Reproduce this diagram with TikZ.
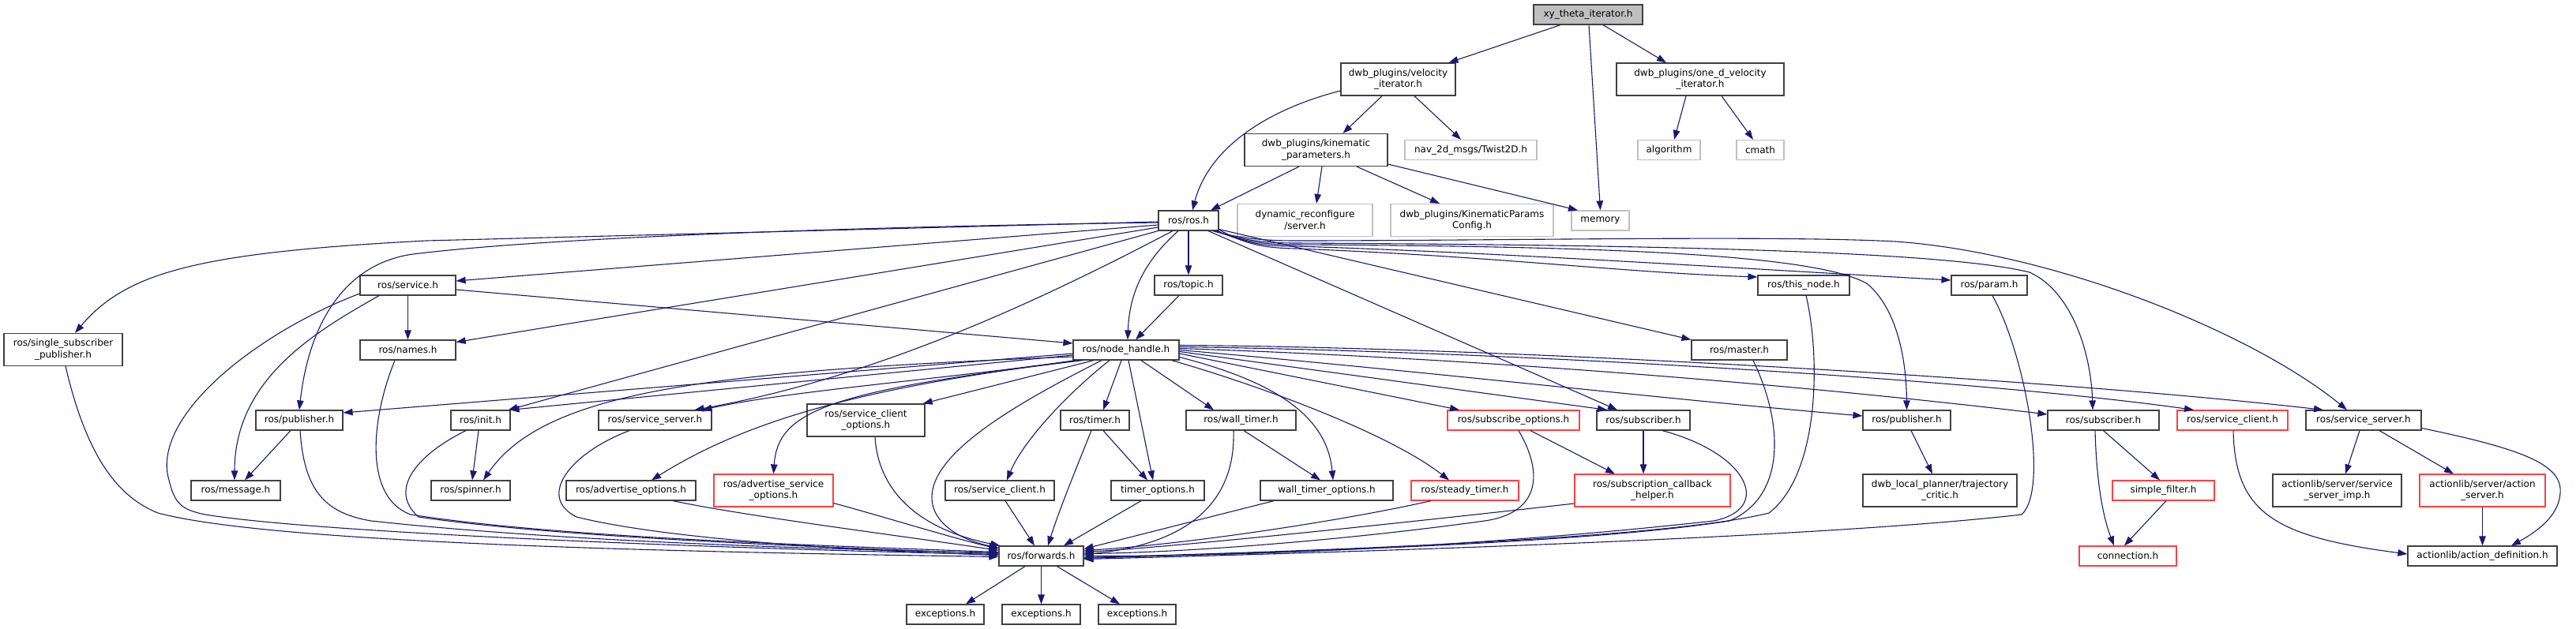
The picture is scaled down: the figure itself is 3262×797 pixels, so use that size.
\documentclass[tikz,border=0pt]{standalone}
\usepackage{fontspec}
\setmainfont{DejaVu Sans}
\usetikzlibrary{arrows.meta}
\definecolor{eb}{HTML}{191970}
\definecolor{nk}{HTML}{404040}
\definecolor{ng}{HTML}{BFBFBF}
\definecolor{nr}{HTML}{FF4040}
\begin{document}
\begin{tikzpicture}[x=1pt,y=-1pt,
  box/.style={draw=nk, line width=1.2pt, fill=white, inner sep=0pt, align=center,
    minimum height=25pt, font=\fontsize{12}{14.3}\selectfont},
  bb/.style={box},
  gb/.style={box, draw=ng},
  rb/.style={box, draw=nr},
  tl/.style={minimum height=41pt},
  mw/.style={minimum width=#1pt},
  e/.style={draw=eb, line width=1.1pt, -{Triangle[length=12pt,width=8.5pt]}},
]
\useasboundingbox (0,0) rectangle (3262,797);
% ---------- nodes ----------
\node[bb,mw=138,fill=ng] (root) at (2011,18.5) {xy\_theta\_iterator.h};
\node[bb,mw=145,tl] (vel) at (1770.5,100.5) {dwb\_plugins/velocity\\\_iterator.h};
\node[bb,mw=212,tl] (oned) at (2153,100.5) {dwb\_plugins/one\_d\_velocity\\\_iterator.h};
\node[bb,mw=181,tl] (kin) at (1666.5,190) {dwb\_plugins/kinematic\\\_parameters.h};
\node[gb,mw=167] (twist) at (1862.5,190) {nav\_2d\_msgs/Twist2D.h};
\node[gb,mw=79] (algo) at (2113.5,190) {algorithm};
\node[gb,mw=60] (cmath) at (2229,190) {cmath};
\node[bb,mw=76] (ros) at (1505,279.5) {ros/ros.h};
\node[gb,mw=171,tl] (dyn) at (1652.5,279) {dynamic\_reconfigure\\/server.h};
\node[gb,mw=206,tl] (kpc) at (1864,279) {dwb\_plugins/KinematicParams\\Config.h};
\node[gb,mw=73] (mem) at (2026.5,279.5) {memory};
\node[bb,mw=121] (service) at (516.5,361.5) {ros/service.h};
\node[bb,mw=86] (topic) at (1505,361.5) {ros/topic.h};
\node[bb,mw=116] (thisnode) at (2284,361.5) {ros/this\_node.h};
\node[bb,mw=96] (param) at (2519,361.5) {ros/param.h};
\node[bb,mw=150,tl] (ssp) at (80,443) {ros/single\_subscriber\\\_publisher.h};
\node[bb,mw=121] (names) at (516.5,443.5) {ros/names.h};
\node[bb,mw=134] (nh) at (1426,443.5) {ros/node\_handle.h};
\node[bb,mw=121] (master) at (2202.5,443.5) {ros/master.h};
\node[bb,mw=110] (pubL) at (379,532.5) {ros/publisher.h};
\node[bb,mw=75] (init) at (608.5,532.5) {ros/init.h};
\node[bb,mw=143] (ssL) at (829.5,532.5) {ros/service\_server.h};
\node[bb,mw=149,tl] (sco) at (1096.5,532.5) {ros/service\_client\\\_options.h};
\node[bb,mw=87] (timer) at (1386.5,532.5) {ros/timer.h};
\node[bb,mw=139] (wtimer) at (1571.5,532.5) {ros/wall\_timer.h};
\node[rb,mw=167] (subopt) at (1916.5,532.5) {ros/subscribe\_options.h};
\node[bb,mw=118] (subM) at (2081,532.5) {ros/subscriber.h};
\node[bb,mw=111] (pubR) at (2414.5,532.5) {ros/publisher.h};
\node[bb,mw=141] (subR) at (2663.5,532.5) {ros/subscriber.h};
\node[rb,mw=140] (scR) at (2827,532.5) {ros/service\_client.h};
\node[bb,mw=146] (ssR) at (2993,532.5) {ros/service\_server.h};
\node[bb,mw=113] (msg) at (298.5,621.5) {ros/message.h};
\node[bb,mw=100] (spinner) at (596,621.5) {ros/spinner.h};
\node[bb,mw=164] (advopt) at (799,621.5) {ros/advertise\_options.h};
\node[rb,mw=151,tl] (advsvc) at (979.5,621.5) {ros/advertise\_service\\\_options.h};
\node[bb,mw=138] (scM) at (1266,621.5) {ros/service\_client.h};
\node[bb,mw=118] (topt) at (1466,621.5) {timer\_options.h};
\node[bb,mw=168] (wtopt) at (1680,621.5) {wall\_timer\_options.h};
\node[rb,mw=136] (steady) at (1855,621.5) {ros/steady\_timer.h};
\node[rb,mw=197,tl] (sch) at (2092.5,621.5) {ros/subscription\_callback\\\_helper.h};
\node[bb,mw=195,tl] (tcrit) at (2456.5,621.5) {dwb\_local\_planner/trajectory\\\_critic.h};
\node[rb,mw=129] (sfilter) at (2739.5,621.5) {simple\_filter.h};
\node[bb,mw=163,tl] (ssimp) at (2959.5,621.5) {actionlib/server/service\\\_server\_imp.h};
\node[rb,mw=159,tl] (aserver) at (3143.5,621.5) {actionlib/server/action\\\_server.h};
\node[bb,mw=107] (fwd) at (1318.5,704.5) {ros/forwards.h};
\node[rb,mw=123] (conn) at (2694.5,704.5) {connection.h};
\node[bb,mw=189] (adef) at (3143.5,704.5) {actionlib/action\_definition.h};
\node[bb,mw=98] (exc1) at (1197,778.5) {exceptions.h};
\node[bb,mw=99] (exc2) at (1318.5,778.5) {exceptions.h};
\node[bb,mw=98] (exc3) at (1440,778.5) {exceptions.h};
% ---------- edges: top ----------
\draw[e] ([xshift=-35pt]root.south) -- ([xshift=64pt]vel.north);
\draw[e] ([xshift=1pt]root.south) -- (mem.north);
\draw[e] ([xshift=19pt]root.south) -- ([xshift=-43pt]oned.north);
\draw[e] ([yshift=-14.5pt]vel.west) .. controls (1600,140) and (1530,190) .. ([xshift=5pt]ros.north);
\draw[e] ([xshift=-20.5pt]vel.south) -- ([xshift=34pt]kin.north);
\draw[e] ([xshift=20.5pt]vel.south) -- ([xshift=-12.5pt]twist.north);
\draw[e] ([xshift=-18pt]oned.south) -- ([xshift=6.5pt]algo.north);
\draw[e] ([xshift=27pt]oned.south) -- ([xshift=-9pt]cmath.north);
\draw[e] ([xshift=-21.5pt]kin.south) -- ([xshift=28pt]ros.north);
\draw[e] ([xshift=7.5pt]kin.south) -- ([xshift=14.5pt]dyn.north);
\draw[e] ([xshift=51.5pt]kin.south) -- ([xshift=-41pt]kpc.north);
\draw[e] ([yshift=-18pt]kin.east) -- ([xshift=-28.5pt]mem.north);
% ---------- edges: ros.h ----------
\draw[e] ([yshift=-1.5pt]ros.west) -- (540,305) .. controls (250,320) and (160,345) .. ([xshift=15pt]ssp.north);
\draw[e] ([yshift=-2.5pt]ros.west) .. controls (1100,287) and (700,300) .. (523,322) .. controls (430,335) and (390,420) .. (pubL.north);
\draw[e] ([yshift=-5.5pt]ros.west) -- ([yshift=5.5pt]service.east);
\draw[e] ([yshift=-8.5pt]ros.west) -- ([yshift=10pt]names.east);
\draw[e] (ros.south west) -- ([xshift=-3pt]init.north east);
\draw[e] ([xshift=-20pt]ros.south) .. controls (1300,390) and (1100,480) .. ([xshift=50pt]ssL.north);
\draw[e] ([xshift=-13pt]ros.south) .. controls (1450,330) and (1430,370) .. ([xshift=2pt]nh.north);
\draw[e] (ros.south) -- (topic.north);
\draw[e] ([xshift=-12pt]topic.south) -- ([xshift=12pt]nh.north);
\draw[e] ([xshift=-8pt]ros.south east) .. controls (1570,302) and (1600,305) .. (1640,305)
   .. controls (1900,305) and (2250,298) .. (2400,306) .. controls (2600,320) and (2850,420) .. ([xshift=-21pt]ssR.north);
\draw[e] ([xshift=-6pt]ros.south east) .. controls (1572,304) and (1600,308) .. (1640,308)
   .. controls (2000,310) and (2450,315) .. (2570,345) .. controls (2625,370) and (2648,450) .. ([xshift=-13.5pt]subR.north);
\draw[e] ([xshift=-4pt]ros.south east) .. controls (1574,306) and (1600,310) .. (1640,310)
   .. controls (2000,312) and (2300,320) .. (2365,360) .. controls (2400,390) and (2414,450) .. (pubR.north);
\draw[e] ([xshift=-2pt]ros.south east) .. controls (1576,308) and (1600,312) .. (1640,312)
   .. controls (1900,320) and (2200,340) .. ([yshift=6.5pt]param.west);
\draw[e] ([yshift=-11.5pt]ros.east) .. controls (1578,310) and (1600,314) .. (1640,315)
   .. controls (1900,325) and (2050,345) .. ([yshift=10.5pt]thisnode.west);
\draw[e] ([yshift=-11pt]ros.east) -- (master.north west);
\draw[e] ([xshift=25pt]ros.south) -- ([xshift=-33pt]subM.north);
% ---------- edges: service.h, ssp, publisher, names, init ----------
\draw[e] (service.south) -- (names.north);
\draw[e] ([yshift=-5.5pt]service.east) -- ([yshift=8.5pt]nh.west);
\draw[e] ([xshift=-36.5pt]service.south) .. controls (400,420) and (297,480) .. ([xshift=-1.5pt]msg.north);
\draw[e] ([yshift=-10.5pt]service.west) .. controls (330,420) and (200,520) .. (212,600) .. controls (220,635) and (225,645) .. (260,652) .. controls (400,675) and (900,695) .. ([yshift=2pt]fwd.west);
\draw[e] ([xshift=3pt]ssp.south) .. controls (110,580) and (150,630) .. (200,650) .. controls (350,690) and (900,700) .. ([yshift=-1pt]fwd.west);
\draw[e] ([xshift=-11pt]pubL.south) -- ([xshift=11.5pt]msg.north);
\draw[e] ([xshift=1pt]pubL.south) .. controls (385,620) and (410,650) .. (470,660) .. controls (700,685) and (1000,695) .. ([yshift=4pt]fwd.west);
\draw[e] ([xshift=-16.5pt]names.south) .. controls (470,530) and (460,630) .. (520,652) .. controls (700,680) and (1000,690) .. ([yshift=5pt]fwd.west);
\draw[e] ([xshift=-2.5pt]init.south) -- ([xshift=2pt]spinner.north);
\draw[e] ([xshift=-18.5pt]init.south) .. controls (530,575) and (490,620) .. (530,655) .. controls (700,680) and (1000,692) .. ([yshift=3pt]fwd.west);
\draw[e] ([xshift=-32.5pt]ssL.south) .. controls (720,575) and (680,630) .. (730,655) .. controls (850,685) and (1100,698) .. ([yshift=1pt]fwd.west);
\draw[e] ([xshift=53pt]advopt.south) .. controls (950,655) and (1150,680) .. ([yshift=7pt]fwd.west);
\draw[e] ([yshift=-16pt]advsvc.east) .. controls (1120,655) and (1200,680) .. ([yshift=9pt]fwd.west);
\draw[e] ([xshift=11.5pt]sco.south) .. controls (1112,620) and (1160,670) .. ([xshift=2pt]fwd.north west);
% ---------- edges: node_handle.h ----------
\draw[e] ([yshift=-4.5pt]nh.west) -- ([yshift=9.5pt]pubL.east);
\draw[e] ([yshift=-6.5pt]nh.west) -- ([xshift=-1pt]init.north east);
\draw[e] ([yshift=-8.5pt]nh.west) .. controls (900,470) and (690,495) .. ([xshift=16pt]spinner.north);
\draw[e] ([xshift=3pt]nh.south west) .. controls (1200,480) and (1000,495) .. ([xshift=60pt]ssL.north);
\draw[e] ([xshift=8pt]nh.south west) .. controls (1100,490) and (950,530) .. ([xshift=26pt]advopt.north);
\draw[e] ([xshift=13pt]nh.south west) .. controls (1050,495) and (985,520) .. (advsvc.north);
\draw[e] ([xshift=-41pt]nh.south) -- ([xshift=-3pt]sco.north east);
\draw[e] ([xshift=-31pt]nh.south) .. controls (1300,505) and (1180,570) .. (1180,630) .. controls (1180,665) and (1220,685) .. ([yshift=10.5pt]fwd.west);
\draw[e] ([xshift=-21pt]nh.south) .. controls (1350,500) and (1295,560) .. ([xshift=9pt]scM.north);
\draw[e] ([xshift=-6pt]nh.south) -- ([xshift=10.5pt]timer.north);
\draw[e] ([xshift=3pt]nh.south) -- ([xshift=-6pt]topt.north);
\draw[e] ([xshift=19pt]nh.south) -- ([xshift=-34.5pt]wtimer.north);
\draw[e] ([yshift=-9pt]nh.east) .. controls (1600,480) and (1680,520) .. ([xshift=8pt]wtopt.north);
\draw[e] ([xshift=-10pt]nh.south east) .. controls (1600,490) and (1760,550) .. ([xshift=-20pt]steady.north);
\draw[e] ([yshift=-4.5pt]nh.east) -- ([xshift=-68.5pt]subopt.north);
\draw[e] ([yshift=-2pt]nh.east) -- ([xshift=-46pt]subM.north);
\draw[e] (nh.east) .. controls (1800,470) and (2100,505) .. ([yshift=5.5pt]pubR.west);
\draw[e] ([yshift=2pt]nh.east) .. controls (1900,455) and (2300,490) .. ([yshift=7.5pt]subR.west);
\draw[e] ([yshift=4pt]nh.east) .. controls (1900,445) and (2500,480) .. ([xshift=-49pt]scR.north);
\draw[e] ([yshift=6pt]nh.east) .. controls (1900,440) and (2600,480) .. ([xshift=-51pt]ssR.north);
% ---------- edges: middle row ----------
\draw[e] ([xshift=-4.5pt]timer.south) .. controls (1360,600) and (1340,650) .. ([xshift=8.5pt]fwd.north);
\draw[e] ([xshift=10.5pt]timer.south) -- ([xshift=-13pt]topt.north);
\draw[e] ([xshift=-21pt]topt.south) -- ([xshift=28.5pt]fwd.north);
\draw[e] ([xshift=7pt]scM.south) -- ([xshift=-8.5pt]fwd.north);
\draw[e] ([xshift=-9.5pt]wtimer.south) .. controls (1565,640) and (1500,690) .. ([yshift=2pt]fwd.east);
\draw[e] ([xshift=3.5pt]wtimer.south) -- ([xshift=-8pt]wtopt.north);
\draw[e] ([xshift=-67pt]wtopt.south) -- ([yshift=9pt]fwd.east);
\draw[e] ([xshift=-43pt]steady.south) .. controls (1700,660) and (1500,690) .. ([yshift=7pt]fwd.east);
\draw[e] ([yshift=-16.5pt]sch.west) .. controls (1800,660) and (1500,692) .. ([yshift=5pt]fwd.east);
\draw[e] ([xshift=6.5pt]subopt.south) .. controls (1955,600) and (1950,650) .. (1880,660) .. controls (1700,685) and (1500,700) .. ([yshift=3pt]fwd.east);
\draw[e] ([xshift=21.5pt]subopt.south) -- ([xshift=-47.5pt]sch.north);
\draw[e] (subM.south) -- ([xshift=-11.5pt]sch.north);
\draw[e] ([xshift=24pt]subM.south) .. controls (2215,575) and (2245,645) .. (2170,660) .. controls (1900,690) and (1600,705) .. (fwd.east);
\draw[e] ([xshift=3pt]thisnode.south) .. controls (2305,450) and (2305,600) .. (2240,650) .. controls (2100,685) and (1600,700) .. ([yshift=-2pt]fwd.east);
\draw[e] ([xshift=4pt]param.south) .. controls (2565,450) and (2595,620) .. (2560,652) .. controls (2300,682) and (1700,700) .. ([yshift=-4pt]fwd.east);
\draw[e] ([xshift=17.5pt]master.south) .. controls (2260,540) and (2260,630) .. (2190,660) .. controls (2000,690) and (1600,700) .. ([yshift=-3pt]fwd.east);
\draw[e] ([xshift=5.5pt]pubR.south) -- ([xshift=-9.5pt]tcrit.north);
\draw[e] ([xshift=-10.5pt]subR.south) .. controls (2655,620) and (2665,660) .. ([xshift=-17.5pt]conn.north);
\draw[e] (subR.south) -- ([xshift=-4.5pt]sfilter.north);
\draw[e] ([xshift=3.5pt]sfilter.south) -- ([xshift=-4.5pt]conn.north);
\draw[e] ([xshift=1pt]scR.south) .. controls (2830,650) and (2880,680) .. ([yshift=2.5pt]adef.west);
\draw[e] ([xshift=-5pt]ssR.south) -- ([xshift=10.5pt]ssimp.north);
\draw[e] ([xshift=20pt]ssR.south) -- ([xshift=-36.5pt]aserver.north);
\draw[e] ([yshift=-10pt]ssR.east) .. controls (3200,570) and (3245,590) .. (3242,625) .. controls (3240,655) and (3210,675) .. ([xshift=36.5pt]adef.north);
\draw[e] (aserver.south) -- (adef.north);
% ---------- forwards ----------
\draw[e] ([xshift=-20.5pt]fwd.south) -- ([xshift=26pt]exc1.north);
\draw[e] (fwd.south) -- (exc2.north);
\draw[e] ([xshift=20pt]fwd.south) -- ([xshift=-22pt]exc3.north);
\end{tikzpicture}
\end{document}
